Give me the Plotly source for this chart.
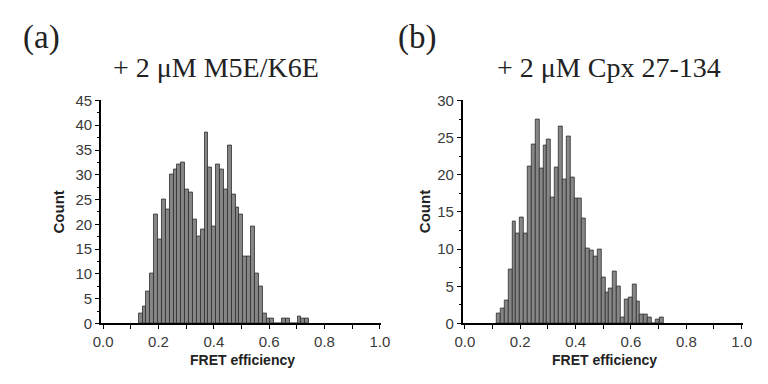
import plotly.graph_objects as go

# ---- data ----
bin_width = 0.014
start_a = 0.128
counts_a = [2, 3.5, 6.5, 10, 22, 17, 25, 23, 30, 31, 32, 32.5, 27, 26.5, 21, 17.5,
            19, 38.5, 31.5, 19.5, 32, 31, 27, 36, 26, 23.5, 22, 13.5, 13.5, 19.5,
            10, 7.5, 2, 1, 1, 0, 0, 1, 1, 0, 0, 1.5, 1, 1]
start_b = 0.115
counts_b = [1.3, 2, 3.1, 7.2, 13.7, 12.1, 14.2, 12.1, 21.1, 24.1, 27.4, 20.8, 24,
            24.8, 16.9, 21, 26.5, 19.4, 25.2, 19.6, 16.8, 16.8, 14.1, 10.1, 9.8,
            9, 10, 6.2, 4.2, 4.7, 7, 5, 0.8, 3.2, 3.5, 5.2, 3, 1.2, 1.2, 0.8, 0,
            0.6, 0.8]
x_tickvals = [0.0, 0.2, 0.4, 0.6, 0.8, 1.0]
x_ticktext = ["0.0", "0.2", "0.4", "0.6", "0.8", "1.0"]
ymax_a, ymax_b = 45, 30
panel_labels = ["(a)", "(b)"]
panel_titles = ["+ 2 μM M5E/K6E", "+ 2 μM Cpx 27-134"]
x_title = "FRET efficiency"
y_title = "Count"

centers_a = [start_a + bin_width * (i + 0.5) for i in range(len(counts_a))]
centers_b = [start_b + bin_width * (i + 0.5) for i in range(len(counts_b))]

fig = go.Figure()
bar_style = dict(marker=dict(color="#868686", line=dict(color="#2e2e2e", width=0.8)),
                 width=bin_width, showlegend=False, hoverinfo="skip")
fig.add_trace(go.Bar(x=centers_a, y=counts_a, xaxis="x", yaxis="y", **bar_style))
fig.add_trace(go.Bar(x=centers_b, y=counts_b, xaxis="x2", yaxis="y2", **bar_style))

W, H = 768, 384
def px(v): return v / W
def py(v): return 1 - v / H

tickfont = dict(family="Liberation Sans, Arial", size=15, color="#3a3a3a")
common_x = dict(range=[-0.008, 1.005], tickvals=x_tickvals, ticktext=x_ticktext,
                showline=True, linecolor="black", linewidth=1.5, ticks="outside",
                ticklen=4, tickwidth=1, tickcolor="black", showgrid=False,
                zeroline=False, tickfont=tickfont,
                minor=dict(ticks="outside", ticklen=4, tickwidth=1, dtick=0.1,
                           tickcolor="black", showgrid=False))
common_y = dict(showline=True, linecolor="black", linewidth=1.5, ticks="outside",
                ticklen=4, tickwidth=1, tickcolor="black", showgrid=False,
                zeroline=False, tickfont=tickfont, dtick=5,
                minor=dict(ticks="outside", ticklen=2, tickwidth=1, dtick=2.5,
                           tickcolor="black", showgrid=False))
ydom = [py(329), py(95.7)]
fig.update_layout(
    width=W, height=H, margin=dict(l=0, r=0, t=0, b=0),
    paper_bgcolor="white", plot_bgcolor="white", bargap=0,
    xaxis=dict(domain=[px(95), px(381.7)], anchor="y", **common_x),
    yaxis=dict(domain=ydom, anchor="x", range=[0, ymax_a], **common_y),
    xaxis2=dict(domain=[px(465), px(751.7)], anchor="y2", **common_x),
    yaxis2=dict(domain=ydom, anchor="x2", range=[0, ymax_b], **common_y),
)

serif = "Liberation Serif, Times New Roman"
ann = []
base = dict(xref="paper", yref="paper", showarrow=False, xanchor="center", yanchor="middle")
for i, (lab, tit) in enumerate(zip(panel_labels, panel_titles)):
    off = 370 * i
    ann.append(dict(text=lab, x=px(34 + off + (14 if i else 0)), y=py(30),
                    font=dict(family=serif, size=33, color="#222"), **base))
    ann.append(dict(text=tit, x=px(213 + off + (32 if i else 0)), y=py(61),
                    font=dict(family=serif, size=28, color="#222"), **base))
    ann.append(dict(text="<b>%s</b>" % y_title, x=px(52 + off + (4 if i else 0)), y=py(212),
                    textangle=-90, font=dict(family="Liberation Sans, Arial", size=15, color="#222"),
                    **base))
    ann.append(dict(text="<b>%s</b>" % x_title, x=px(240 + off), y=py(367),
                    font=dict(family="Liberation Sans, Arial", size=14, color="#222"), **base))
fig.update_layout(annotations=ann)

fig.write_html("out.html", config={"displayModeBar": False},
               post_script="document.body.style.margin='0';")
